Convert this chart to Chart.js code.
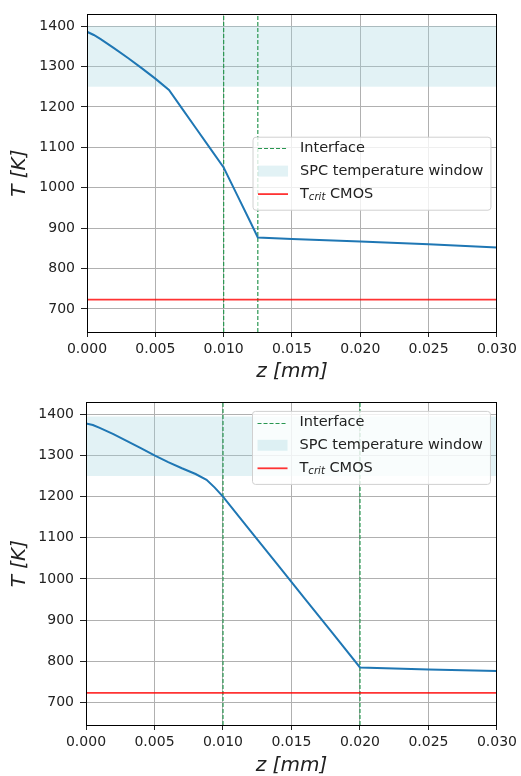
<!DOCTYPE html>
<html><head><meta charset="utf-8">
<script src="https://cdn.jsdelivr.net/npm/chart.js@4.4.0/dist/chart.umd.min.js"></script>
<style>
html,body{margin:0;padding:0;background:#fff;width:521px;height:776px;overflow:hidden;}
.box{position:absolute;left:0;width:521px;height:388px;}
#b1{top:0}#b2{top:388px}
canvas{display:block}
</style></head><body>
<div class="box" id="b1"><canvas id="c1" width="521" height="388"></canvas></div>
<div class="box" id="b2"><canvas id="c2" width="521" height="388"></canvas></div>
<script>
// ---- data ----
const xTicks = [0, 0.005, 0.010, 0.015, 0.020, 0.025, 0.030];
const yTicks = [700, 800, 900, 1000, 1100, 1200, 1300, 1400];

const topZ = [0, 0.0005, 0.001, 0.002, 0.003, 0.004, 0.005, 0.006, 0.007, 0.008, 0.009, 0.010, 0.011, 0.012, 0.0125, 0.015, 0.020, 0.025, 0.030];
const topT = [1386, 1378, 1368, 1345, 1321, 1296, 1270, 1242, 1194, 1146, 1098, 1050, 981, 912, 877, 873, 867, 860, 852];
const topInterfaces = [0.010, 0.0125];
const topWindow = [1250, 1400];

const botZ = [0, 0.0005, 0.001, 0.002, 0.003, 0.004, 0.005, 0.006, 0.007, 0.008, 0.0088, 0.0094, 0.010, 0.012, 0.014, 0.016, 0.018, 0.020, 0.025, 0.030];
const botT = [1378, 1374, 1367, 1352, 1335, 1318, 1300, 1284, 1269, 1255, 1241, 1222, 1200, 1117, 1034, 951, 868, 785, 780, 776];
const botInterfaces = [0.010, 0.020];
const botWindow = [1250, 1395];

const tCrit = 723;
const xRange = [0, 0.030];
const yRangeTop = [643, 1429];
const yRangeBot = [645, 1429];
const legendLabels = ['Interface', 'SPC temperature window', 'T', 'crit', ' CMOS'];

// ---- styles ----
const FONT = '"DejaVu Sans", sans-serif';
const BLUE = '#1f77b4', GREEN = 'rgb(40,150,80)', RED = 'rgba(255,0,0,0.8)', BAND = 'rgba(160,212,222,0.3)';

const framePlugin = {
  id: 'frame',
  afterDatasetsDraw(c) {
    const a = c.chartArea, ctx = c.ctx;
    const f = p => Math.round(p - 0.5) + 0.5;
    ctx.save();
    ctx.strokeStyle = '#000'; ctx.lineWidth = 1;
    ctx.strokeRect(f(a.left), f(a.top), f(a.right) - f(a.left), f(a.bottom) - f(a.top));
    ctx.restore();
  }
};

const legendPlugin = {
  id: 'mplLegend',
  afterDraw(c, args, o) {
    const ctx = c.ctx, a = c.chartArea;
    const fs = 14.5;
    const font = fs + 'px ' + FONT, subFont = 'italic ' + (fs * 0.7) + 'px ' + FONT;
    ctx.save();
    ctx.font = font;
    const w0 = ctx.measureText(legendLabels[0]).width;
    const w1 = ctx.measureText(legendLabels[1]).width;
    const wT = ctx.measureText(legendLabels[2]).width;
    const wC = ctx.measureText(legendLabels[4]).width;
    ctx.font = subFont;
    const wS = ctx.measureText(legendLabels[3]).width;
    const w2 = wT + wS + wC;
    const textW = Math.max(w0, w1, w2);
    const padL = 5.5, handleW = 30, gap = 12, padR = 7, H = 73;
    const W = padL + handleW + gap + textW + padR;
    const right = a.right - o.offX, left = right - W;
    const top = o.loc === 'center' ? (a.top + a.bottom) / 2 - H / 2 : a.top + o.offY;
    ctx.beginPath();
    ctx.roundRect(left + 0.5, top + 0.5, W, H, 3);
    ctx.fillStyle = 'rgba(255,255,255,0.8)'; ctx.fill();
    ctx.strokeStyle = '#d0d0d0'; ctx.lineWidth = 1; ctx.stroke();
    const rows = [top + 11.7, top + 34.4, top + 57.4];
    const hx = left + padL, tx = hx + handleW + gap;
    ctx.beginPath(); ctx.setLineDash([4, 2]); ctx.strokeStyle = GREEN; ctx.lineWidth = 1.2;
    ctx.moveTo(hx, Math.round(rows[0]) + 0.5); ctx.lineTo(hx + handleW, Math.round(rows[0]) + 0.5); ctx.stroke();
    ctx.setLineDash([]);
    ctx.fillStyle = BAND; ctx.fillRect(hx, rows[1] - 5.5, handleW, 11);
    ctx.beginPath(); ctx.strokeStyle = RED; ctx.lineWidth = 1.8;
    ctx.moveTo(hx, rows[2]); ctx.lineTo(hx + handleW, rows[2]); ctx.stroke();
    ctx.fillStyle = '#222'; ctx.textBaseline = 'middle'; ctx.textAlign = 'left';
    ctx.font = font;
    ctx.fillText(legendLabels[0], tx, rows[0]);
    ctx.fillText(legendLabels[1], tx, rows[1]);
    ctx.fillText(legendLabels[2], tx, rows[2]);
    ctx.font = subFont;
    ctx.fillText(legendLabels[3], tx + wT, rows[2] + 3.5);
    ctx.font = font;
    ctx.fillText(legendLabels[4], tx + wT + wS, rows[2]);
    ctx.restore();
  }
};

function pts(xs, ys) { return xs.map((v, i) => ({x: v, y: ys[i]})); }

function makeChart(id, z, T, ifaces, band, yRange, cfg) {
  const datasets = [];
  datasets.push({data: pts(z, T), borderColor: BLUE, borderWidth: 2, pointRadius: 0, fill: false, order: 1});
  datasets.push({data: pts(xRange, [tCrit, tCrit]), borderColor: RED, borderWidth: 1.8, pointRadius: 0, fill: false, order: 2});
  ifaces.forEach(v => datasets.push({data: pts([v, v], yRange), borderColor: GREEN, borderWidth: 1.2, borderDash: [4, 2], pointRadius: 0, fill: false, order: 3}));
  datasets.push({data: pts(xRange, [band[1], band[1]]), borderWidth: 0, borderColor: 'rgba(0,0,0,0)', backgroundColor: BAND, pointRadius: 0, fill: {value: band[0]}, order: 4});

  return new Chart(document.getElementById(id), {
    type: 'line',
    data: {datasets},
    plugins: [framePlugin, legendPlugin],
    options: {
      responsive: false, animation: false, devicePixelRatio: 1,
      layout: {padding: {top: cfg.padTop, right: 23, bottom: 0, left: 0}},
      elements: {line: {tension: 0}},
      plugins: {
        legend: {display: false}, tooltip: {enabled: false},
        mplLegend: cfg.legend
      },
      scales: {
        x: {
          type: 'linear', min: xRange[0], max: xRange[1],
          afterBuildTicks: s => { s.ticks = xTicks.map(v => ({value: v})); },
          afterFit: s => { s.height = cfg.xAxisH; },
          ticks: {callback: v => Number(v).toFixed(3), font: {family: FONT, size: 14}, color: '#222', padding: 4, maxRotation: 0, autoSkip: false},
          grid: {color: '#b0b0b0', lineWidth: 1, tickLength: 5, tickColor: '#222', drawTicks: true},
          border: {display: false},
          title: {display: true, text: 'z [mm]', color: '#222', font: {family: FONT, size: 20, style: 'italic', lineHeight: 1}, padding: {top: 0, bottom: cfg.xTitlePad}}
        },
        y: {
          type: 'linear', min: yRange[0], max: yRange[1],
          afterBuildTicks: s => { s.ticks = yTicks.map(v => ({value: v})); },
          afterFit: s => { s.width = cfg.yAxisW; },
          ticks: {callback: v => String(v), font: {family: FONT, size: 14}, color: '#222', padding: 6},
          grid: {color: '#b0b0b0', lineWidth: 1, tickLength: 6, tickColor: '#222', drawTicks: true},
          border: {display: false},
          title: {display: true, text: 'T [K]', color: '#222', font: {family: FONT, size: 20, style: 'italic', lineHeight: 1}, padding: {top: 10, bottom: 0}}
        }
      }
    }
  });
}

makeChart('c1', topZ, topT, topInterfaces, topWindow, yRangeTop,
  {padTop: 10, xAxisH: 56, yAxisW: 87, xTitlePad: 6, legend: {loc: 'center', offX: 6.5}});
makeChart('c2', botZ, botT, botInterfaces, botWindow, yRangeBot,
  {padTop: 14, xAxisH: 51, yAxisW: 86, xTitlePad: 0, legend: {loc: 'upper', offX: 7, offY: 8.5}});
</script>
</body></html>
